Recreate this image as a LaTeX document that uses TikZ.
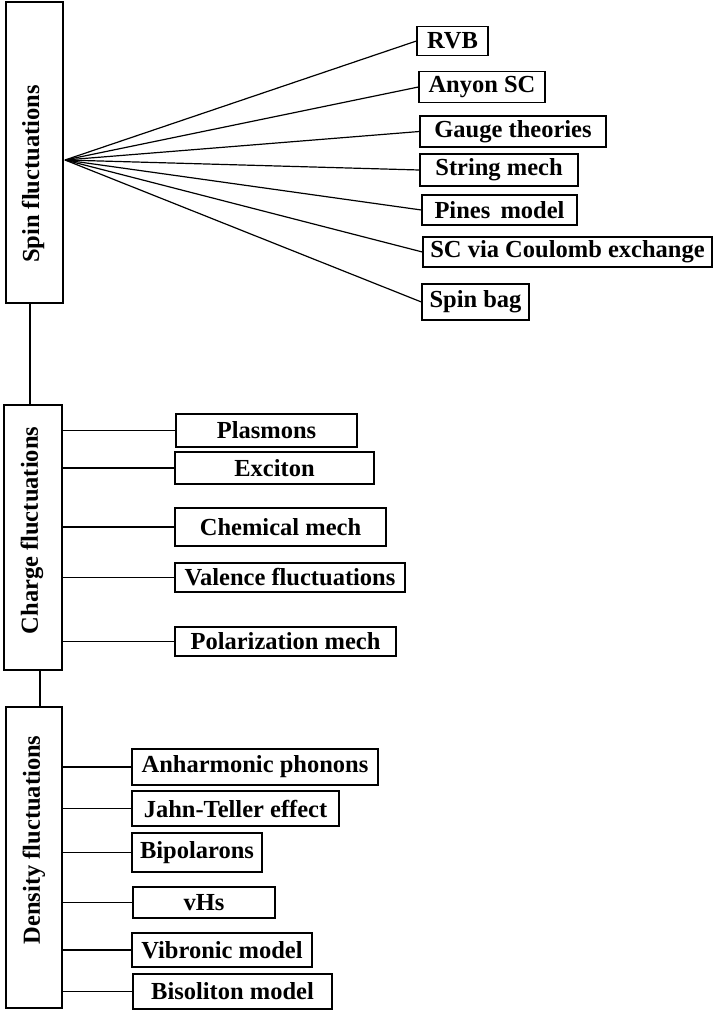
\documentclass[tikz,border=0pt]{standalone}
\usepackage{fontspec}
\setmainfont{Liberation Serif}
\begin{document}
\begin{tikzpicture}[x=1pt,y=-1pt,
  every node/.style={font=\fontsize{24.5}{28}\selectfont\bfseries},
  box/.style={draw, line width=1.2pt, inner sep=0pt, rectangle},
  conn/.style={line width=1.2pt}]
\useasboundingbox (0,0) rectangle (714,1012);
% main boxes
\node[box, minimum width=57, minimum height=301] (spin) at (34.5,152.5) {};
\node[rotate=90, inner sep=0pt] (spinlbl) at (33,174) {Spin fluctuations};
\node[box, minimum width=58, minimum height=265] (charge) at (33,537.5) {};
\node[rotate=90, inner sep=0pt] (chargelbl) at (32,530.5) {Charge fluctuations};
\node[box, minimum width=56, minimum height=301] (dens) at (34,857.5) {};
\node[rotate=90, inner sep=0pt] (denslbl) at (34,840) {Density fluctuations};
\draw[conn] ([xshift=-4.5pt]spin.south) -- ([xshift=-4.5pt]spin.south |- charge.north);
\draw[conn] ([xshift=7pt]charge.south) -- ([xshift=7pt]charge.south |- dens.north);
% spin children
\coordinate (fan) at (65,160);
\node[box, minimum width=71, minimum height=29] (rvb) at (452.5,41) {RVB};
\node[box, minimum width=126, minimum height=31] (anyon) at (482,87) {Anyon SC};
\node[box, minimum width=186, minimum height=31] (gauge) at (513,131.5) {Gauge theories};
\node[box, minimum width=158, minimum height=32] (string) at (499,170) {String mech};
\node[box, minimum width=155, minimum height=30] (pines) at (499.5,210) {Pines\ \,model};
\node[box, minimum width=289, minimum height=30] (scvia) at (567.5,252) {SC via Coulomb exchange};
\node[box, minimum width=107, minimum height=36] (spinbag) at (475.5,302) {Spin bag};
\foreach \n in {rvb,anyon,gauge,string,pines,scvia,spinbag}
  \draw[conn] (fan) -- (\n.west);
% charge children
\node[box, minimum width=181, minimum height=33] (plas) at (266.5,430.5) {Plasmons};
\node[box, minimum width=199, minimum height=32] (exc) at (274.5,468) {Exciton};
\node[box, minimum width=211, minimum height=38] (chem) at (280.5,527) {Chemical mech};
\node[box, minimum width=230, minimum height=29] (val) at (290,577.5) {Valence fluctuations};
\node[box, minimum width=221, minimum height=29] (pol) at (285.5,641.5) {Polarization mech};
\foreach \n in {plas,exc,chem,val,pol}
  \draw[conn] (\n.west) -- (\n.west -| charge.east);
% density children
\node[box, minimum width=246, minimum height=36] (anh) at (255,767) {Anharmonic phonons};
\node[box, minimum width=207, minimum height=35] (jt) at (235.5,808.5) {Jahn-Teller effect};
\node[box, minimum width=130, minimum height=39] (bip) at (197,852.5) {Bipolarons};
\node[box, minimum width=142, minimum height=31] (vhs) at (204,902.5) {vHs};
\node[box, minimum width=180, minimum height=34] (vib) at (222,950) {Vibronic model};
\node[box, minimum width=199, minimum height=35] (bis) at (232.5,991.5) {Bisoliton model};
\foreach \n in {anh,jt,bip,vhs,vib,bis}
  \draw[conn] (\n.west) -- (\n.west -| dens.east);
\end{tikzpicture}
\end{document}
